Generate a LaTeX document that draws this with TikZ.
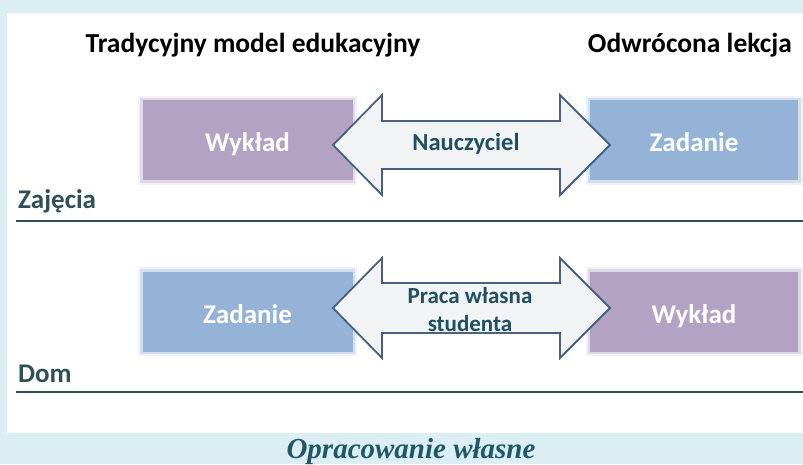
\documentclass[tikz,border=0pt]{standalone}
\usepackage{fontspec}
\setmainfont{Carlito}
\newfontfamily\capfont{Liberation Serif}
\definecolor{bgblue}{HTML}{DAEEF3}
\definecolor{purp}{HTML}{B2A3C4}
\definecolor{blu}{HTML}{95B3D7}
\definecolor{arrline}{HTML}{46627F}
\definecolor{arrfill}{HTML}{F2F3F5}
\definecolor{teal}{HTML}{1F5060}
\definecolor{slate}{HTML}{2F4F5B}
\definecolor{capcol}{HTML}{205867}
\begin{document}
\begin{tikzpicture}[x=1pt,y=-1pt,
  head/.style={font=\fontsize{27.5}{32}\selectfont\bfseries, text=black, inner sep=0pt, anchor=base},
  rowlabel/.style={font=\fontsize{27}{31}\selectfont\bfseries, text=slate, inner sep=0pt, anchor=base west},
  softbox/.style={fill=#1, minimum width=210pt, minimum height=80pt, inner sep=0pt,
     text=white, font=\fontsize{27}{31}\selectfont\bfseries, text height=23pt, text depth=0pt,
     preaction={draw=#1, draw opacity=0.15, line width=9pt},
     preaction={draw=#1, draw opacity=0.3, line width=5pt}},
  arrowshape/.style={draw=arrline, line width=1.8pt, fill=arrfill, line join=miter},
  arrtext/.style={font=\fontsize{24.5}{28}\selectfont\bfseries, text=teal, inner sep=0pt, align=center},
  arrtext2/.style={font=\fontsize{23}{28}\selectfont\bfseries, text=teal, inner sep=0pt, align=center},
  sepline/.style={draw=slate, line width=2.4pt}
]
\useasboundingbox (0,0) rectangle (803,464);
\fill[bgblue] (0,0) rectangle (803,464);
\fill[white] (7,13) rectangle (803,433);

% headings
\node[head] (h1) at (253,52) {Tradycyjny model edukacyjny};
\node[head] (h2) at (690,52) {Odwrócona lekcja};

% top row boxes
\node[softbox=purp] (b1) at (247.5,140) {Wykład};
\node[softbox=blu, minimum width=208pt] (b2) at (694,140) {Zadanie};

% top arrow
\path[arrowshape] (333,145) -- (382,95) -- (382,121) -- (560,121) -- (560,95)
  -- (610,145) -- (560,195) -- (560,169) -- (382,169) -- (382,195) -- cycle;
\node[arrtext] (t1) at (466,144) {Nauczyciel};

% Zajecia
\node[rowlabel] (z) at (18,208) {Zajęcia};
\coordinate (l1a) at (16,221);
\coordinate (l1b) at (803,221);
\draw[sepline] (l1a) -- (l1b);

% bottom row boxes
\node[softbox=blu] (b3) at (247.5,311.5) {Zadanie};
\node[softbox=purp, minimum width=208pt] (b4) at (694,311.5) {Wykład};

% bottom arrow
\path[arrowshape] (333,308) -- (382,258) -- (382,283) -- (560,283) -- (560,258)
  -- (610,308) -- (560,358) -- (560,333) -- (382,333) -- (382,358) -- cycle;
\node[arrtext2] (t2) at (470,310) {Praca własna\\studenta};

% Dom
\node[rowlabel] (d) at (18,382) {Dom};
\coordinate (l2a) at (16,392);
\coordinate (l2b) at (803,392);
\draw[sepline] (l2a) -- (l2b);

% caption
\node[inner sep=0pt, anchor=base, text=capcol, font=\capfont\fontsize{29}{32}\selectfont\bfseries\itshape] (cap) at (411,458) {Opracowanie własne};
\end{tikzpicture}
\end{document}
